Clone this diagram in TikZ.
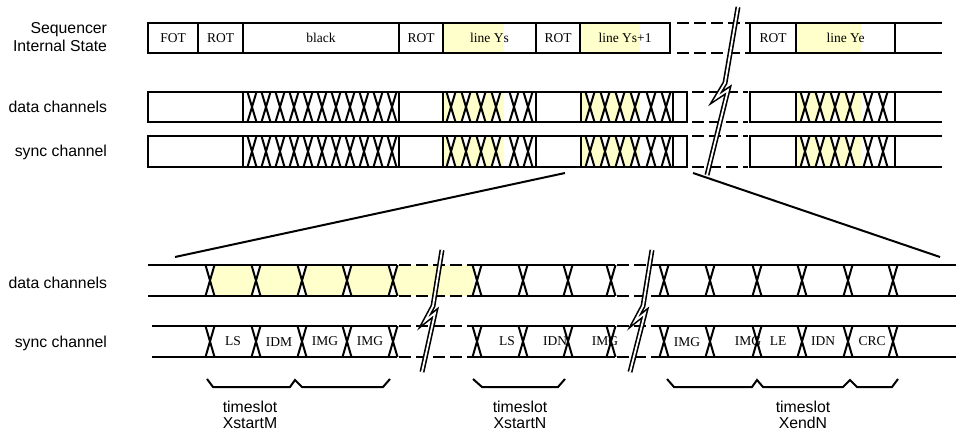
\documentclass[tikz,border=0pt]{standalone}
\usepackage{fontspec}
\setmainfont{Liberation Serif}
\newfontfamily\lsans{Liberation Sans}
\definecolor{ylw}{RGB}{255,255,204}
\newcommand\xcr[3]{\draw (#1-4.5,#2) -- (#1+4.5,#3) (#1-4.5,#3) -- (#1+4.5,#2);}
\newcommand\notch[3]{\fill[white] (#1-4.5,#2) -- (#1+4.5,#2) -- (#1,#2/2+#3/2) -- cycle (#1-4.5,#3) -- (#1+4.5,#3) -- (#1,#2/2+#3/2) -- cycle;}
\begin{document}
\begin{tikzpicture}[x=1pt,y=-1pt,line width=2pt,
  lbl/.style={font=\lsans\fontsize{15.8}{18}\selectfont,anchor=east,inner sep=0,align=right},
  cell/.style={font=\fontsize{13.5}{15}\selectfont,inner sep=0},
  ts/.style={font=\lsans\fontsize{15.8}{16.5}\selectfont,align=center,inner sep=0},
  dsh/.style={dash pattern=on 12pt off 5pt},
  boltout/.style={line width=5pt,black,line join=miter},
  boltin/.style={line width=1.8pt,white,line join=miter}]
\useasboundingbox (0,0) rectangle (956,433);
% ---------- left labels ----------
\node[lbl] (lseq) at (108,37) {Sequencer\\Internal State};
\node[lbl] (ldat) at (108,107) {data channels};
\node[lbl] (lsyn) at (108,152) {sync channel};
\node[lbl] (ldat2) at (108,283) {data channels};
\node[lbl] (lsyn2) at (108,343) {sync channel};
% ---------- state row ----------
\fill[ylw] (443,23) rectangle (504,53);
\fill[ylw] (580,23) rectangle (640,53);
\fill[ylw] (796,23) rectangle (861,53);
\draw (148,23) rectangle (670,53);
\foreach \v in {198,243,399,443,536,580} \draw (\v,23) -- (\v,53);
\draw[dsh] (677,23) -- (750,23) (677,53) -- (750,53);
\draw (942,23) -- (750,23) -- (750,53) -- (942,53);
\draw (796,23) -- (796,53) (895,23) -- (895,53);
\node[cell] (sfot) at (173,38) {FOT};
\node[cell] (srot1) at (220.5,38) {ROT};
\node[cell] (sblk) at (321,38) {black};
\node[cell] (srot2) at (421,38) {ROT};
\node[cell] (sys) at (489.5,38) {line Ys};
\node[cell] (srot3) at (558,38) {ROT};
\node[cell] (sys1) at (625,38) {line Ys+1};
\node[cell] (srot4) at (773,38) {ROT};
\node[cell] (sye) at (845.5,38) {line Ye};
% ---------- upper data / sync rows ----------
\foreach \T/\B in {92/122,136/167}{
  \fill[ylw] (443,\T) rectangle (504,\B);
  \fill[ylw] (581,\T) rectangle (640,\B);
  \fill[ylw] (796,\T) rectangle (861,\B);
  \foreach \c in {451,466,481,496,590,605,620,635,805,820,835,850} {\notch{\c}{\T}{\B}}
  \draw (148,\T) rectangle (687,\B);
  \foreach \v in {243,399,443,536,581,673} \draw (\v,\T) -- (\v,\B);
  \foreach \k in {0,...,10} {\xcr{252+14*\k}{\T}{\B}}
  \foreach \c in {451,466,481,496,514,528,590,605,620,635,651,666,805,820,835,850,868,883} {\xcr{\c}{\T}{\B}}
  \draw[dsh] (692,\T) -- (748,\T) (692,\B) -- (748,\B);
  \draw (942,\T) -- (750,\T) -- (750,\B) -- (942,\B);
  \draw (796,\T) -- (796,\B) (895,\T) -- (895,\B);
}
% top break symbol
\draw[boltout] (738,7) -- (725,83) -- (716,98) -- (728,90) -- (707,175);
\draw[boltin] (738,7) -- (725,83) -- (716,98) -- (728,90) -- (707,175);
% ---------- zoom lines ----------
\draw (565,173) -- (175,257);
\draw (693,173) -- (940,257);
% ---------- lower rows ----------
\fill[ylw] (210,265) rectangle (473,296);
\foreach \c in {210,256,302,347,393} {\notch{\c}{265}{296}}
\foreach \T/\B/\L in {265/296/148,326/357/152}{
  \draw (\L,\T) -- (397,\T) (\L,\B) -- (397,\B);
  \draw[dsh] (399,\T) -- (473,\T) (399,\B) -- (473,\B);
  \draw (473,\T) -- (615,\T) (473,\B) -- (615,\B);
  \draw[dsh] (617,\T) -- (660,\T) (617,\B) -- (660,\B);
  \draw (660,\T) -- (956,\T) (660,\B) -- (956,\B);
  \foreach \c in {210,256,302,347,393,477,523,568,611,664,710,757,802,848,893} {\xcr{\c}{\T}{\B}}
}
\draw[boltout] (442,250) -- (433,306) -- (425,321) -- (435,313) -- (422,372);
\draw[boltin] (442,250) -- (433,306) -- (425,321) -- (435,313) -- (422,372);
\draw[boltout] (652,250) -- (643,306) -- (635,321) -- (645,313) -- (630,372);
\draw[boltin] (652,250) -- (643,306) -- (635,321) -- (645,313) -- (630,372);
% sync labels
\node[cell] (a1) at (233,341) {LS};
\node[cell] (a2) at (279,342) {IDM};
\node[cell] (a3) at (325,341) {IMG};
\node[cell] (a4) at (370,341) {IMG};
\node[cell] (b1) at (507,341) {LS};
\node[cell] (b2) at (555,341) {IDN};
\node[cell] (b3) at (605,341) {IMG};
\node[cell] (c1) at (687,342) {IMG};
\node[cell] (c2) at (748,341) {IMG};
\node[cell] (c3) at (778,341) {LE};
\node[cell] (c4) at (823,341) {IDN};
\node[cell] (c5) at (872,341) {CRC};
% braces
\draw (207,379) -- (213,387) -- (290,387) -- (295,380) -- (302,387) -- (383,387) -- (390,379);
\draw (473,379) -- (482,387) -- (558,387) -- (565,379);
\draw (667,379) -- (674,387) -- (752,387) -- (757,380) -- (763,387) -- (843,387) -- (850,380) -- (857,387) -- (892,387) -- (898,379);
\node[ts] (t1) at (250,415) {timeslot\\XstartM};
\node[ts] (t2) at (520,415) {timeslot\\XstartN};
\node[ts] (t3) at (803,415) {timeslot\\XendN};
\end{tikzpicture}
\end{document}
